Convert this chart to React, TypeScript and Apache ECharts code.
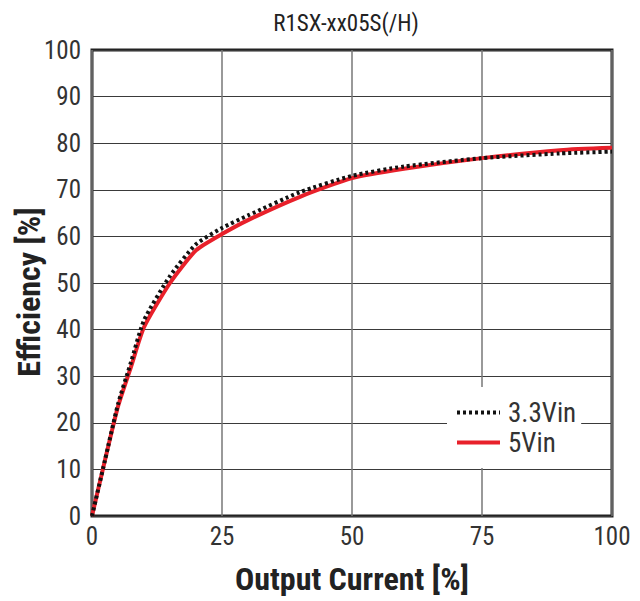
import React, { useEffect, useRef } from "react";
import * as echarts from "echarts";

const xTicks = [0, 25, 50, 75, 100];
const current = [0, 2.5, 5, 7.5, 10, 15, 20, 25, 30, 40, 50, 60, 75, 90, 100];
const eff33 = [0, 12, 24, 33, 42, 51.5, 58.3, 61.8, 64.5, 69.5, 73, 75, 76.8, 77.8, 78.2];
const eff5 = [0, 12, 23.5, 32, 40.5, 50, 57, 60.5, 63.5, 68.5, 72.5, 74.5, 76.8, 78.5, 79];
const seriesNames = ["3.3Vin", "5Vin"];
const titleText = "R1SX-xx05S(/H)";
const xName = "Output Current [%]";
const yName = "Efficiency [%]";

const FONT = "'Roboto Condensed', 'Liberation Sans Narrow', sans-serif";

export default function App() {
  const ref = useRef<HTMLDivElement>(null);
  useEffect(() => {
    if (!ref.current) return;
    const chart = echarts.init(ref.current, undefined, { renderer: "svg" });
    chart.setOption({
      animation: false,
      backgroundColor: "#fff",
      graphic: [
        {
          type: "text",
          x: 346,
          y: 23,
          style: {
            text: titleText,
            font: "normal 23px 'Roboto Condensed'",
            fill: "#222",
            textAlign: "center",
            textVerticalAlign: "middle",
          },
        },
        {
          type: "text",
          x: 29,
          y: 292,
          rotation: Math.PI / 2,
          style: {
            text: yName,
            font: "bold 32px 'Roboto Condensed'",
            fill: "#222",
            textAlign: "center",
            textVerticalAlign: "middle",
          },
        },
      ],
      grid: {
        left: 92,
        right: 28,
        top: 50,
        bottom: 85,
        show: true,
        borderColor: "#222",
        borderWidth: 3,
        backgroundColor: "transparent",
      },
      legend: {
        orient: "vertical",
        left: 447,
        top: 387,
        data: seriesNames,
        backgroundColor: "#fff",
        padding: [12, 5, 12, 8],
        itemWidth: 43,
        itemHeight: 16,
        itemGap: 3,
        itemStyle: { opacity: 0 },
        lineStyle: { width: 4 },
        textStyle: { fontFamily: FONT, fontSize: 27, color: "#333", padding: [0, 0, 0, 3] },
      },
      xAxis: {
        type: "value",
        min: 0,
        max: 100,
        interval: 25,
        name: xName,
        nameLocation: "middle",
        nameGap: 47,
        nameTextStyle: { fontFamily: FONT, fontSize: 32, color: "#222", fontWeight: "bold" },
        axisLine: { show: false },
        axisTick: { show: false },
        axisLabel: {
          fontFamily: FONT,
          fontSize: 25,
          color: "#333",
          margin: 8,
          formatter: (v: number) => (xTicks.includes(v) ? String(v) : ""),
        },
        splitLine: { show: true, lineStyle: { color: "#777", width: 1.5 } },
      },
      yAxis: {
        type: "value",
        min: 0,
        max: 100,
        interval: 10,
        axisLine: { show: false },
        axisTick: { show: false },
        axisLabel: { fontFamily: FONT, fontSize: 25, color: "#333", margin: 11 },
        splitLine: { show: true, lineStyle: { color: "#3a3a3a", width: 1 } },
      },
      series: [
        {
          name: seriesNames[1],
          type: "line",
          data: current.map((x, i) => [x, eff5[i]]),
          showSymbol: false,
          symbol: "none",
          smooth: 0.2,
          lineStyle: { color: "#e8202a", width: 4 },
          itemStyle: { color: "#e8202a" },
          z: 2,
        },
        {
          name: seriesNames[0],
          type: "line",
          data: current.map((x, i) => [x, eff33[i]]),
          showSymbol: false,
          symbol: "none",
          smooth: 0.2,
          lineStyle: { color: "#111", width: 4, type: [3, 3] },
          itemStyle: { color: "#111" },
          z: 3,
        },
      ],
    });
    return () => chart.dispose();
  }, []);
  return (
    <div
      ref={ref}
      style={{ position: "fixed", left: 0, top: 0, width: 640, height: 601 }}
    />
  );
}
